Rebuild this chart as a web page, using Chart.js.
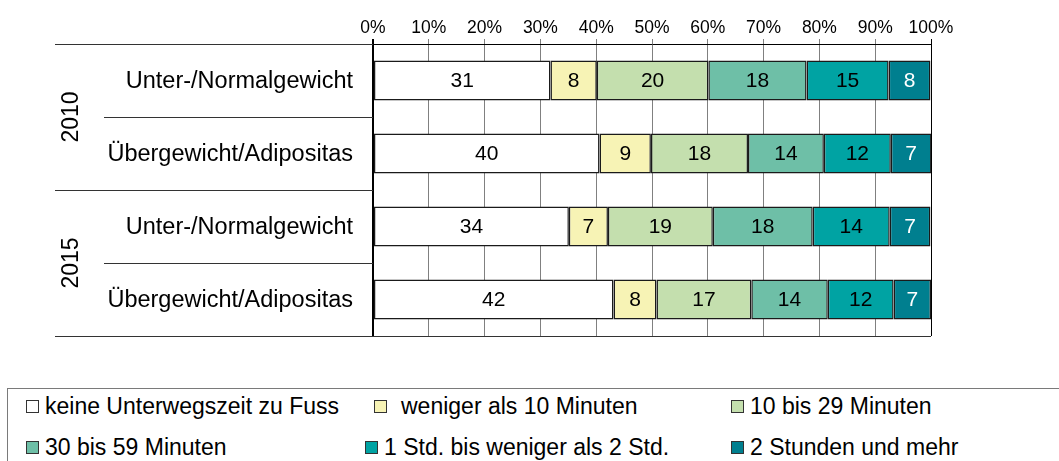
<!DOCTYPE html>
<html>
<head>
<meta charset="utf-8">
<script src="https://cdn.jsdelivr.net/npm/chart.js@4.4.1/dist/chart.umd.min.js"></script>
<style>
  body { margin: 0; background: #fff; font-family: "Liberation Sans", Arial, sans-serif; }
  #wrap { position: relative; width: 1059px; height: 461px; overflow: hidden; }
  #box { position: absolute; left: 0; top: 0; width: 1059px; height: 388px; }
  #legend { position: absolute; left: 7px; top: 388px; width: 1100px; height: 100px; border: 1px solid #7a7a7a; }
  .item { position: absolute; display: flex; align-items: center; height: 28px; font-size: 23px; color: #000; white-space: nowrap; }
  .mark { width: 11px; height: 11px; border: 1px solid #333; margin-right: 6px; }
</style>
</head>
<body>
<div id="wrap">
  <div id="box"><canvas id="chart"></canvas></div>
  <div id="legend"></div>
</div>
<script>
const groups = ['2010', '2015'];
const categories = ['Unter-/Normalgewicht', 'Übergewicht/Adipositas', 'Unter-/Normalgewicht', 'Übergewicht/Adipositas'];
const xTicks = [0, 10, 20, 30, 40, 50, 60, 70, 80, 90, 100];

const seriesNames = ['keine Unterwegszeit zu Fuss', 'weniger als 10 Minuten', '10 bis 29 Minuten',
                     '30 bis 59 Minuten', '1 Std. bis weniger als 2 Std.', '2 Stunden und mehr'];
const seriesColors = ['#ffffff', '#f7f3b5', '#c4dfae', '#6ebfa7', '#00a3a3', '#007f8f'];

// bar lengths (percent)
const keine   = [31.8, 40.6, 35.1, 43.1];
const unter10 = [8.3, 9.2, 7.0, 7.7];
const min1029 = [20.0, 17.4, 18.8, 17.0];
const min3059 = [17.6, 13.6, 17.9, 13.7];
const std1bis2 = [14.7, 12.0, 13.8, 11.8];
const std2plus = [7.5, 7.3, 7.3, 6.7];

// numbers printed in the bars
const keineLbl   = [31, 40, 34, 42];
const unter10Lbl = [8, 9, 7, 8];
const min1029Lbl = [20, 18, 19, 17];
const min3059Lbl = [18, 14, 18, 14];
const std1bis2Lbl = [15, 12, 14, 12];
const std2plusLbl = [8, 7, 7, 7];

const values = [keine, unter10, min1029, min3059, std1bis2, std2plus];
const printed = [keineLbl, unter10Lbl, min1029Lbl, min3059Lbl, std1bis2Lbl, std2plusLbl];

const FONT = '"Liberation Sans", Arial, sans-serif';

// category labels, year labels, separators and numbers in the bars
const sidePlugin = {
  id: 'side',
  afterDatasetsDraw(chart) {
    const {ctx, chartArea: a, scales: {y}} = chart;
    ctx.save();
    ctx.strokeStyle = '#333';
    ctx.lineWidth = 1;
    for (let i = 0; i <= categories.length; i++) {
      const yy = Math.round(y.getPixelForValue(i - 0.5)) + 0.5;
      const isGroup = i % 2 === 0;
      ctx.beginPath();
      ctx.moveTo(isGroup ? 55 : 104, yy);
      ctx.lineTo(i === categories.length ? a.right : a.left, yy);
      ctx.stroke();
    }

    ctx.fillStyle = '#000';
    ctx.font = '23.5px ' + FONT;
    ctx.textAlign = 'right';
    ctx.textBaseline = 'middle';
    categories.forEach((c, i) => ctx.fillText(c, a.left - 20, y.getPixelForValue(i) + 1));

    ctx.font = '23px ' + FONT;
    ctx.textAlign = 'center';
    groups.forEach((g, gi) => {
      ctx.save();
      ctx.translate(72, y.getPixelForValue(gi * 2 + 0.5));
      ctx.rotate(-Math.PI / 2);
      ctx.fillText(g, 0, 0);
      ctx.restore();
    });

    ctx.font = '21px ' + FONT;
    chart.data.datasets.forEach((ds, di) => {
      const meta = chart.getDatasetMeta(di);
      ctx.fillStyle = di === values.length - 1 ? '#fff' : '#000';
      meta.data.forEach((el, i) => {
        ctx.fillText(String(printed[di][i]), (el.x + el.base) / 2, el.y + 1);
      });
    });
    ctx.restore();
  }
};

new Chart(document.getElementById('chart'), {
  type: 'bar',
  data: {
    labels: categories,
    datasets: values.map((v, i) => ({
      label: seriesNames[i],
      data: v,
      backgroundColor: seriesColors[i],
      borderColor: '#1a1a1a',
      borderWidth: 1.5,
      borderSkipped: false,
      barPercentage: 0.55,
      categoryPercentage: 1
    }))
  },
  options: {
    indexAxis: 'y',
    responsive: true,
    maintainAspectRatio: false,
    animation: false,
    layout: { padding: { left: 373, right: 128, top: 0, bottom: 52 } },
    plugins: { legend: { display: false }, tooltip: { enabled: false } },
    scales: {
      x: {
        position: 'top',
        stacked: true,
        min: 0,
        max: 100,
        afterBuildTicks: s => { s.ticks = xTicks.map(v => ({ value: v })); },
        afterFit: s => { s.height = 44; },
        ticks: { callback: v => v + '%', color: '#000', font: { size: 17.5, family: FONT }, padding: 0, maxRotation: 0 },
        grid: {
          color: c => (c.tick && (c.tick.value === 0 || c.tick.value === 100)) ? '#000' : '#808080',
          lineWidth: c => (c.tick && c.tick.value === 0) ? 2 : 1,
          tickLength: 5
        },
        border: { color: '#000', width: 1 }
      },
      y: {
        stacked: true,
        display: false
      }
    }
  },
  plugins: [sidePlugin]
});

// legend in three columns
const legend = document.getElementById('legend');
const colX = [18, 357, 723];
const rowY = [3, 44];
seriesNames.forEach((name, i) => {
  const item = document.createElement('div');
  item.className = 'item';
  const col = i % 3, row = Math.floor(i / 3);
  item.style.left = (colX[col] + (i === 1 ? 9 : 0)) + 'px';
  item.style.top = rowY[row] + 'px';
  const mark = document.createElement('span');
  mark.className = 'mark';
  mark.style.background = seriesColors[i];
  if (i === 1) mark.style.marginRight = '14px';
  item.appendChild(mark);
  item.appendChild(document.createTextNode(name));
  legend.appendChild(item);
});
</script>
</body>
</html>
